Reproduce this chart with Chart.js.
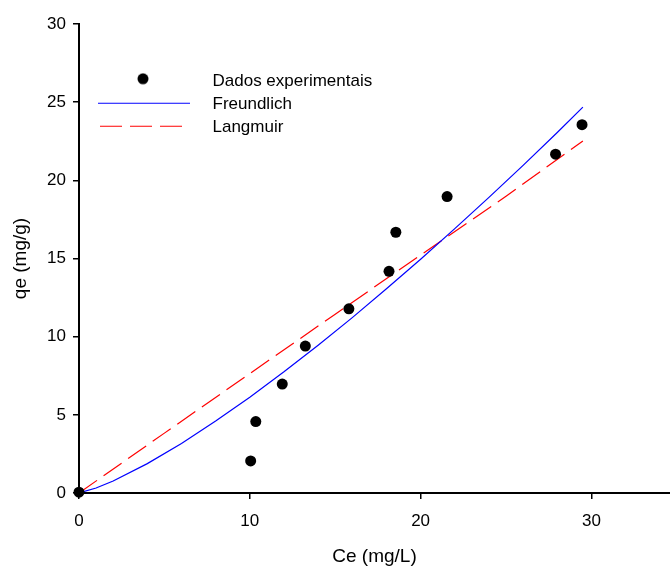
<!DOCTYPE html>
<html>
<head>
<meta charset="utf-8">
<script src="https://cdn.jsdelivr.net/npm/chart.js@4.4.0/dist/chart.umd.min.js"></script>
<style>
  html, body { margin: 0; padding: 0; background: #fff; }
</style>
</head>
<body>
<canvas id="chart" width="670" height="572"></canvas>
<script>
// experimental points (Ce, qe)
const ceExp = [0, 10.05, 10.35, 11.9, 13.25, 15.8, 18.15, 18.55, 21.55, 27.9, 29.45];
const qeExp = [0.05, 2.05, 4.57, 6.97, 9.40, 11.78, 14.18, 16.68, 18.96, 21.67, 23.56];

// Freundlich fit
const ceFreundlich = [0, 1, 2, 4, 6, 8, 10, 12, 14, 16, 18, 20, 22, 24, 26, 28, 29.5];
const qeFreundlich = [0, 0.32, 0.77, 1.88, 3.17, 4.60, 6.13, 7.75, 9.45, 11.22, 13.06, 14.95, 16.91, 18.91, 20.96, 23.06, 24.68];

// Langmuir fit
const ceLangmuir = [0, 5, 10, 15, 20, 25, 29.5];
const qeLangmuir = [0, 3.83, 7.64, 11.44, 15.22, 18.98, 22.52];

const xTicks = [0, 10, 20, 30];
const yTicks = [0, 5, 10, 15, 20, 25, 30];
const seriesNames = ['Dados experimentais', 'Freundlich', 'Langmuir'];

const family = '"Liberation Sans", Arial, sans-serif';

function pts(xs, ys) {
	return xs.map((x, i) => ({x: x, y: ys[i]}));
}

// little pictures for the legend (dot, solid line, dashed line)
function legendIcon(kind) {
	const c = document.createElement('canvas');
	c.width = 119;
	c.height = 17;
	const g = c.getContext('2d');
	if (kind === 'dot') {
		g.fillStyle = '#000';
		g.beginPath();
		g.arc(58, 6.1, 5.5, 0, Math.PI * 2);
		g.fill();
	} else if (kind === 'solid') {
		g.strokeStyle = '#0000ff';
		g.lineWidth = 1.2;
		g.beginPath();
		g.moveTo(13, 7.5);
		g.lineTo(105, 7.5);
		g.stroke();
	} else {
		g.strokeStyle = '#ff0000';
		g.lineWidth = 1.2;
		g.setLineDash([22, 8]);
		g.beginPath();
		g.moveTo(15, 7.5);
		g.lineTo(97, 7.5);
		g.stroke();
	}
	return c;
}
const legendIcons = [legendIcon('dot'), legendIcon('solid'), legendIcon('dash')];

new Chart(document.getElementById('chart'), {
	type: 'scatter',
	data: {
		datasets: [
			{
				label: seriesNames[0],
				data: pts(ceExp, qeExp),
				pointRadius: 5.5,
				pointHoverRadius: 5.5,
				backgroundColor: '#000',
				borderColor: '#000',
				borderWidth: 0,
				clip: false
			},
			{
				label: seriesNames[1],
				data: pts(ceFreundlich, qeFreundlich),
				showLine: true,
				borderColor: '#0000ff',
				borderWidth: 1.2,
				pointRadius: 0,
				tension: 0
			},
			{
				label: seriesNames[2],
				data: pts(ceLangmuir, qeLangmuir),
				showLine: true,
				borderColor: '#ff0000',
				borderWidth: 1.2,
				borderDash: [22, 8],
				pointRadius: 0,
				tension: 0
			}
		]
	},
	options: {
		responsive: false,
		animation: false,
		devicePixelRatio: 1,
		layout: {autoPadding: false, padding: {top: 24, right: 0, bottom: 0, left: 0}},
		plugins: {
			tooltip: {enabled: false},
			legend: {
				position: 'chartArea',
				align: 'start',
				title: {display: true, text: '', font: {size: 10, lineHeight: 1}, padding: {top: 56.7, bottom: 0}},
				labels: {
					usePointStyle: true,
					pointStyleWidth: 119,
					boxHeight: 17,
					padding: 6,
					color: '#000',
					font: {family: family, size: 17},
					generateLabels: () => seriesNames.map((t, i) => ({
						text: t,
						pointStyle: legendIcons[i],
						datasetIndex: i,
						hidden: false,
						lineWidth: 0,
						fillStyle: 'rgba(0,0,0,0)',
						strokeStyle: 'rgba(0,0,0,0)',
						fontColor: '#000'
					}))
				}
			}
		},
		scales: {
			x: {
				type: 'linear',
				min: 0,
				max: 34.6,
				afterBuildTicks: s => { s.ticks = xTicks.map(v => ({value: v})); },
				afterFit: s => { s.height = 79; },
				grid: {drawOnChartArea: false, drawTicks: true, tickLength: 6, color: '#000', lineWidth: 1.5},
				border: {display: true, color: '#000', width: 2},
				ticks: {color: '#000', font: {family: family, size: 17}, padding: 12, maxRotation: 0, autoSkip: false},
				title: {display: true, text: 'Ce (mg/L)', color: '#000', font: {family: family, size: 19}, padding: {top: 0, bottom: 4}}
			},
			y: {
				type: 'linear',
				min: 0,
				max: 30,
				afterBuildTicks: s => { s.ticks = yTicks.map(v => ({value: v})); },
				afterFit: s => { s.width = 79; },
				grid: {drawOnChartArea: false, drawTicks: true, tickLength: 6, color: '#000', lineWidth: 1.5},
				border: {display: true, color: '#000', width: 2},
				ticks: {color: '#000', font: {family: family, size: 17}, padding: 7},
				title: {display: true, text: 'qe (mg/g)', color: '#000', font: {family: family, size: 19}, padding: {top: 9, bottom: 0}}
			}
		}
	}
});
</script>
</body>
</html>
